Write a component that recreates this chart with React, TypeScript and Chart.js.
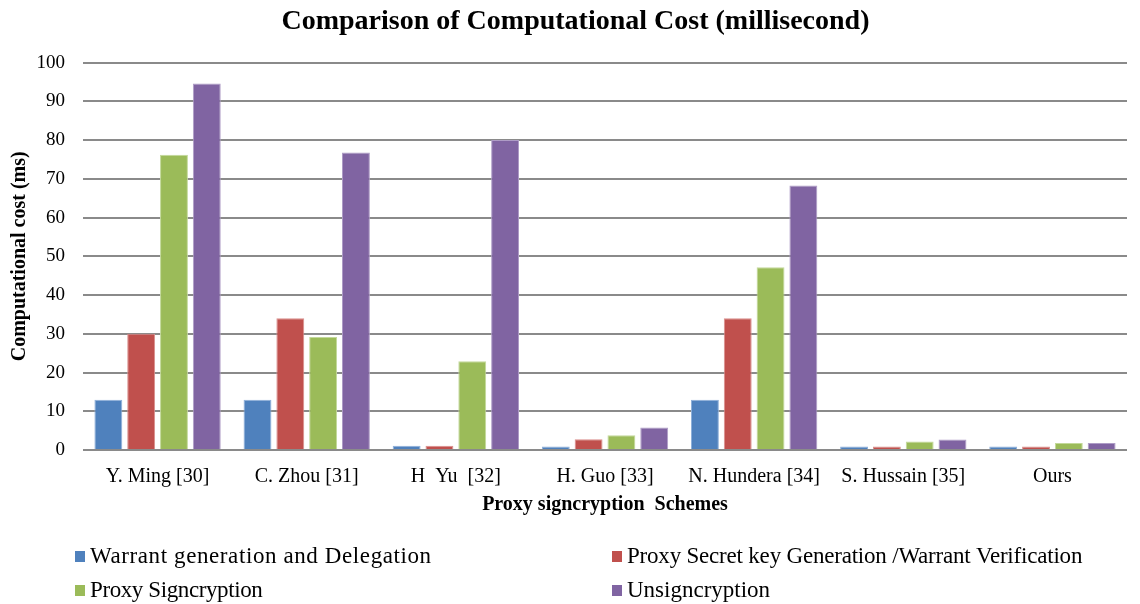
import React, { useEffect, useRef } from "react";
import { Chart, registerables } from "chart.js";

Chart.register(...registerables);

const categories = [
  "Y. Ming [30]",
  "C. Zhou [31]",
  "H  Yu  [32]",
  "H. Guo [33]",
  "N. Hundera [34]",
  "S. Hussain [35]",
  "Ours",
];

const seriesNames = [
  "Warrant generation and Delegation",
  "Proxy Secret key Generation /Warrant Verification",
  "Proxy Signcryption",
  "Unsigncryption",
];

const warrantValues = [13, 13, 1.1, 0.9, 13, 0.9, 0.9];
const proxyKeyValues = [30, 34, 1.1, 2.8, 34, 0.9, 0.9];
const proxySigncryptionValues = [76.2, 29.2, 22.9, 3.8, 47.2, 2.2, 1.8];
const unsigncryptionValues = [94.6, 76.8, 80, 5.8, 68.3, 2.7, 1.8];

const fillColors = ["#4F81BD", "#C0504D", "#9BBB59", "#8064A2"];
const edgeColors = ["#8FB0DA", "#DA8F8D", "#C3D99A", "#AE9CC6"];

const yTicks = [0, 10, 20, 30, 40, 50, 60, 70, 80, 90, 100];

const FONT = "'Liberation Serif', 'Times New Roman', serif";

const legendSlots = [
  { x: 75, y: 556, spacing: "0.6px" },
  { x: 612, y: 556, spacing: "-0.2px" },
  { x: 75, y: 590, spacing: "-0.4px" },
  { x: 612, y: 590, spacing: "0px" },
];

const legendPlugin = {
  id: "twoColumnLegend",
  afterDraw(chart: any) {
    const ctx = chart.ctx as any;
    ctx.save();
    ctx.font = `23px ${FONT}`;
    ctx.textBaseline = "middle";
    ctx.textAlign = "left";
    chart.data.datasets.forEach((ds: any, i: number) => {
      const slot = legendSlots[i];
      ctx.fillStyle = ds.backgroundColor;
      ctx.fillRect(slot.x, slot.y - 5, 10, 11);
      ctx.fillStyle = "#000";
      ctx.letterSpacing = slot.spacing;
      ctx.fillText(ds.label, slot.x + 15, slot.y + 1);
    });
    ctx.restore();
  },
};

export default function App() {
  const canvasRef = useRef<HTMLCanvasElement | null>(null);

  useEffect(() => {
    const canvas = canvasRef.current;
    if (!canvas) return;
    const allSeries = [warrantValues, proxyKeyValues, proxySigncryptionValues, unsigncryptionValues];
    const chart = new Chart(canvas, {
      type: "bar",
      data: {
        labels: categories,
        datasets: allSeries.map((vals, i) => ({
          label: seriesNames[i],
          data: vals,
          backgroundColor: fillColors[i],
          borderColor: edgeColors[i],
          borderWidth: 1,
          categoryPercentage: 0.88,
          barPercentage: 0.85,
        })),
      },
      plugins: [legendPlugin],
      options: {
        animation: false,
        responsive: true,
        maintainAspectRatio: false,
        layout: { padding: { left: 24, right: 13, top: 0, bottom: 84 } },
        plugins: {
          legend: { display: false },
          tooltip: { enabled: false },
          title: {
            display: true,
            text: "Comparison of Computational Cost (millisecond)",
            color: "#000",
            font: { family: FONT, size: 28, weight: "bold" },
            padding: { top: 5, bottom: 24 },
          },
        },
        scales: {
          x: {
            grid: { display: false },
            border: { display: false },
            afterFit: (scale: any) => {
              scale.height = 70;
            },
            ticks: {
              color: "#000",
              font: { family: FONT, size: 20 },
              padding: 7,
              maxRotation: 0,
              autoSkip: false,
            },
            title: {
              display: true,
              text: "Proxy signcryption  Schemes",
              color: "#000",
              font: { family: FONT, size: 20, weight: "bold" },
              padding: { top: 0, bottom: 3 },
            },
          },
          y: {
            min: 0,
            max: 100,
            afterBuildTicks: (axis: any) => {
              axis.ticks = yTicks.map((v) => ({ value: v }));
            },
            afterFit: (scale: any) => {
              scale.width = 59;
            },
            grid: {
              color: "#8A8A8A",
              lineWidth: 2,
              drawTicks: false,
            },
            border: { display: false },
            ticks: {
              color: "#000",
              font: { family: FONT, size: 19 },
              padding: 18,
            },
            title: {
              display: true,
              text: "Computational cost (ms)",
              color: "#000",
              font: { family: FONT, size: 20, weight: "bold" },
              padding: { top: -16, bottom: 0 },
            },
          },
        },
      },
    });
    return () => chart.destroy();
  }, []);

  return (
    <div
      style={{
        position: "fixed",
        left: 0,
        top: 0,
        width: 1140,
        height: 604,
        background: "#fff",
      }}
    >
      <canvas ref={canvasRef} />
    </div>
  );
}
